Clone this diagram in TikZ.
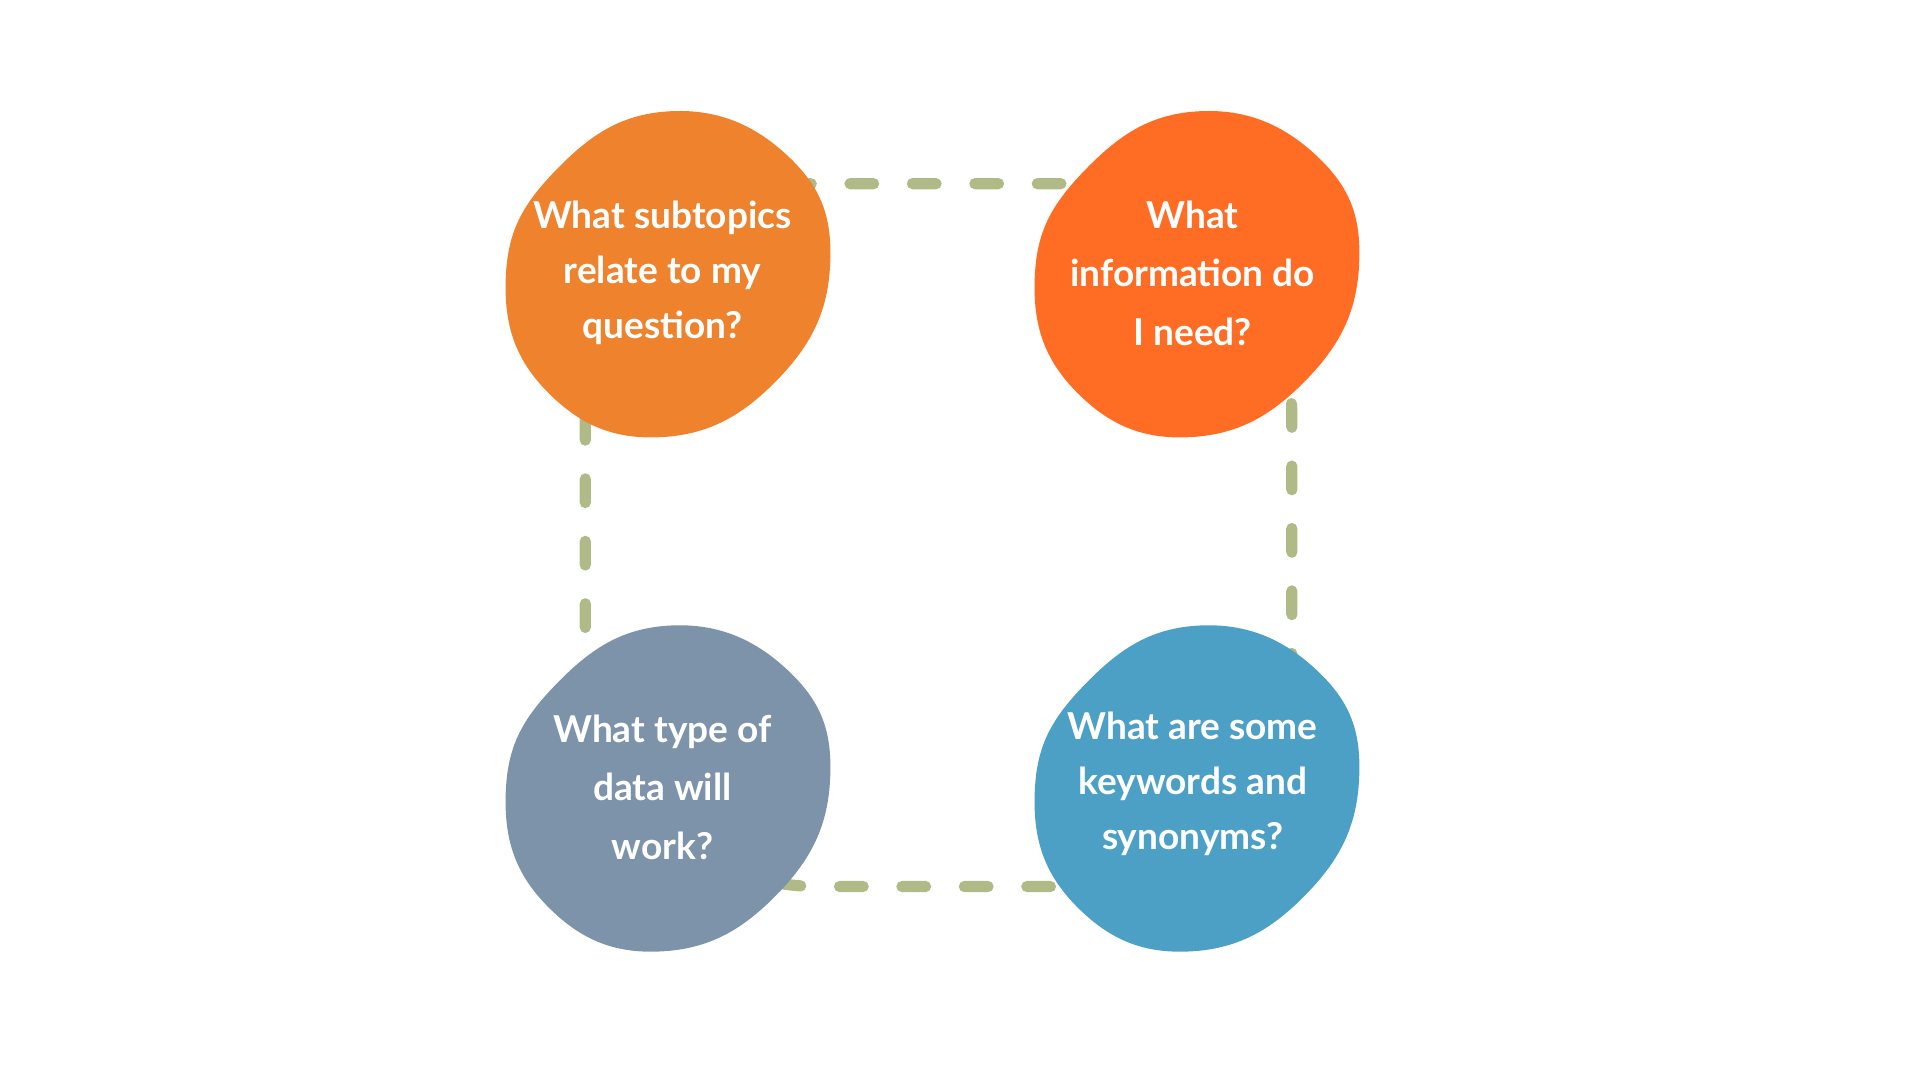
\documentclass[tikz,border=0pt]{standalone}
\usepackage{fontspec}
\setmainfont{Lato}
\usetikzlibrary{positioning}
\usetikzlibrary{calc}
\definecolor{qorange}{HTML}{EE822D}
\definecolor{qred}{HTML}{FF6D24}
\definecolor{qgrey}{HTML}{7D93AA}
\definecolor{qblue}{HTML}{4DA0C5}
\definecolor{qloop}{HTML}{B0BA86}
\newcommand{\qblob}[2]{%
  \fill[#2] plot[smooth cycle, tension=0.75] coordinates {
    ($(#1)+(133,-9)$) ($(#1)+(98,-97)$) ($(#1)+(0,-133)$)
    ($(#1)+(-92,-84)$) ($(#1)+(-132,4)$) ($(#1)+(-98,96)$)
    ($(#1)+(-5,133)$) ($(#1)+(90,86)$)};}
\begin{document}
\begin{tikzpicture}[x=0.01cm, y=-0.01cm,
  question/.style={text=white, align=center, font=\fontsize{8.6}{12.8}\selectfont\bfseries}]
\useasboundingbox (0,0) rectangle (1568,882);
% dashed loop behind the blobs
\draw[qloop, line width=2.6pt, line cap=round, dash pattern=on 5.5pt off 9pt, rounded corners=1.9cm]
  (478,150) rectangle (1055,724);
\coordinate (tl) at (545,224);
\coordinate (tr) at (977,224);
\coordinate (bl) at (545,644);
\coordinate (br) at (977,644);
\qblob{tl}{qorange}
\qblob{tr}{qred}
\qblob{bl}{qgrey}
\qblob{br}{qblue}
\node (subtopics) [question] at (541,223) {What subtopics\\relate to my\\question?};
\node (information) [question, font=\fontsize{8.6}{13.6}\selectfont\bfseries] at (974,223) {What\\information do\\I need?};
\node (datatype) [question, font=\fontsize{8.6}{13.6}\selectfont\bfseries] at (541,643) {What type of\\data will\\work?};
\node (keywords) [question] at (974,640) {What are some\\keywords and\\synonyms?};
\end{tikzpicture}
\end{document}
